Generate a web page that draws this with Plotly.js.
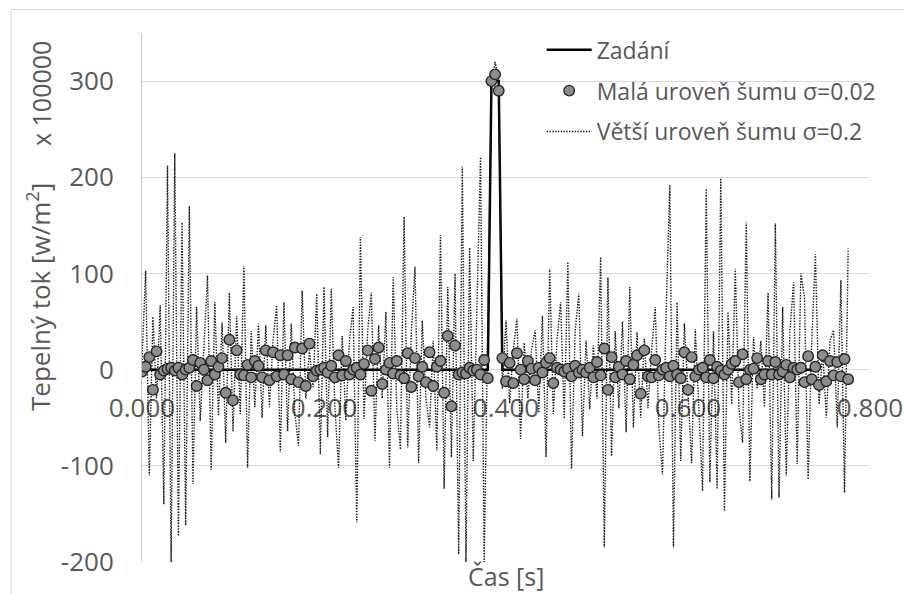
<!DOCTYPE html>
<html>
<head>
<meta charset="utf-8">
<script src="https://cdn.plot.ly/plotly-3.0.1.min.js"></script>
<style>html,body{margin:0;padding:0;background:#fff;}#chart{width:904px;height:594px;}</style>
</head>
<body>
<div id="chart"></div>
<script>
// ---- data ----
const timeS = [
0.000,0.004,0.008,0.012,0.016,0.020,0.024,0.028,0.032,0.036,
0.040,0.044,0.048,0.052,0.056,0.060,0.064,0.068,0.072,0.076,
0.080,0.084,0.088,0.092,0.096,0.100,0.104,0.108,0.112,0.116,
0.120,0.124,0.128,0.132,0.136,0.140,0.144,0.148,0.152,0.156,
0.160,0.164,0.168,0.172,0.176,0.180,0.184,0.188,0.192,0.196,
0.200,0.204,0.208,0.212,0.216,0.220,0.224,0.228,0.232,0.236,
0.240,0.244,0.248,0.252,0.256,0.260,0.264,0.268,0.272,0.276,
0.280,0.284,0.288,0.292,0.296,0.300,0.304,0.308,0.312,0.316,
0.320,0.324,0.328,0.332,0.336,0.340,0.344,0.348,0.352,0.356,
0.360,0.364,0.368,0.372,0.376,0.380,0.384,0.388,0.392,0.396,
0.400,0.404,0.408,0.412,0.416,0.420,0.424,0.428,0.432,0.436,
0.440,0.444,0.448,0.452,0.456,0.460,0.464,0.468,0.472,0.476,
0.480,0.484,0.488,0.492,0.496,0.500,0.504,0.508,0.512,0.516,
0.520,0.524,0.528,0.532,0.536,0.540,0.544,0.548,0.552,0.556,
0.560,0.564,0.568,0.572,0.576,0.580,0.584,0.588,0.592,0.596,
0.600,0.604,0.608,0.612,0.616,0.620,0.624,0.628,0.632,0.636,
0.640,0.644,0.648,0.652,0.656,0.660,0.664,0.668,0.672,0.676,
0.680,0.684,0.688,0.692,0.696,0.700,0.704,0.708,0.712,0.716,
0.720,0.724,0.728,0.732,0.736,0.740,0.744,0.748,0.752,0.756,
0.760,0.764,0.768,0.772,0.776
];

const zadani = [
0,0,0,0,0,0,0,0,0,0, 0,0,0,0,0,0,0,0,0,0,
0,0,0,0,0,0,0,0,0,0, 0,0,0,0,0,0,0,0,0,0,
0,0,0,0,0,0,0,0,0,0, 0,0,0,0,0,0,0,0,0,0,
0,0,0,0,0,0,0,0,0,0, 0,0,0,0,0,0,0,0,0,0,
0,0,0,0,0,0,0,0,0,0, 0,0,0,0,0,0,300,300,300,0,
0,0,0,0,0,0,0,0,0,0, 0,0,0,0,0,0,0,0,0,0,
0,0,0,0,0,0,0,0,0,0, 0,0,0,0,0,0,0,0,0,0,
0,0,0,0,0,0,0,0,0,0, 0,0,0,0,0,0,0,0,0,0,
0,0,0,0,0,0,0,0,0,0, 0,0,0,0,0,0,0,0,0,0,
0,0,0,0,0
];

const malaSum = [
-2,3,13,-21,19,-5,-1,1,2,-1,
2,-5,0,2,10,-17,7,0,-11,9,
-5,3,12,-24,31,-32,20,-5,-6,5,
-8,9,4,-8,20,-11,18,-7,15,-5,
15,-10,23,-13,22,-17,27,-7,-1,0,
2,-3,4,-8,15,-6,9,-5,0,2,
-5,6,20,-22,11,23,-15,0,7,-4,
9,-6,-9,17,-18,12,-7,3,-13,18,
-17,3,9,-24,35,-38,25,-5,-3,-4,
2,-1,0,-5,10,-9,300,307,290,12,
-12,7,-14,17,0,-10,9,1,-11,2,
-3,7,12,-14,2,0,-2,1,-7,4,
-3,0,-3,2,-8,8,-6,22,-21,13,
-8,3,-5,9,-10,5,15,-25,20,-7,
-8,10,-6,0,2,-7,4,-5,-9,18,
-21,13,-7,0,2,-8,10,-9,3,-1,
-5,0,6,9,-13,16,-10,0,1,12,
-10,-5,9,-5,8,-5,-2,5,-8,2,
0,2,-13,14,-10,3,-16,15,-12,9,
-6,8,-7,11,-10
];

const vetsiSum = [
10,103,-110,55,-30,67,-140,212,-200,225,
-173,153,-162,170,-119,65,-53,30,98,-104,
70,-48,49,-76,80,-64,56,-46,108,-102,
40,-39,48,-50,46,-39,30,67,-86,70,
-64,48,-46,-79,82,-30,20,-18,79,-88,
86,-70,84,-40,-102,35,-53,30,65,-159,
138,-51,40,80,-74,46,-30,60,-102,96,
-40,-83,159,-81,40,107,-97,51,-30,-60,
30,-84,140,-124,86,-91,100,-192,211,-200,
127,-95,72,221,-200,72,290,320,300,-20,
51,-35,20,53,-72,28,-30,20,41,-45,
56,-91,105,-46,30,70,-51,112,-103,40,
79,-69,30,-41,25,-30,117,-185,96,-90,
40,-40,50,-65,86,-60,39,-50,32,-40,
20,65,-60,-109,60,192,-185,70,-95,48,
-30,-97,42,-50,-126,188,-117,40,-124,199,
-147,60,-36,105,-40,-76,153,-116,34,-20,
30,-39,80,-135,152,-133,65,-110,40,91,
-98,100,75,-114,30,120,-36,20,-50,30,
41,-60,93,-128,126
];

const seriesNames = ["Zadání", "Malá uroveň šumu σ=0.02", "Větší uroveň šumu σ=0.2"];
const xTickVals = [0, 0.2, 0.4, 0.6, 0.8];
const xTickLabels = ["0.000", "0.200", "0.400", "0.600", "0.800"];
const yTickVals = [-200, -100, 0, 100, 200, 300];
const yTickLabels = ["-200", "-100", "0", "100", "200", "300"];
const xRange = [0, 0.8];
const yRange = [-200, 350];

// ---- chart ----
const FONT = "'Open Sans', 'Noto Sans', sans-serif";
const TXT = "#595959";

const traces = [
  {
    x: timeS, y: zadani, name: seriesNames[0], type: "scatter", mode: "lines",
    line: {color: "#000000", width: 2.5},
    legendgroup: "g1", legendrank: 1
  },
  {
    x: timeS, y: vetsiSum, name: seriesNames[2], type: "scatter", mode: "lines",
    line: {color: "#1a1a1a", width: 1.4, dash: "1.4px,1.4px"},
    legendgroup: "g3", legendrank: 3
  },
  {
    x: timeS, y: malaSum, name: seriesNames[1], type: "scatter", mode: "markers",
    marker: {symbol: "circle", size: 10.5, color: "#8c8c8c", line: {color: "#262626", width: 1.4}},
    legendgroup: "g2", legendrank: 2
  }
];

const layout = {
  width: 904, height: 594,
  margin: {l: 142, r: 34, t: 33, b: 32},
  paper_bgcolor: "#ffffff", plot_bgcolor: "#ffffff",
  font: {family: FONT, color: TXT, size: 25},
  showlegend: true,
  legend: {
    x: 0.549, y: 1.009, xanchor: "left", yanchor: "top",
    font: {family: FONT, size: 23, color: TXT},
    bgcolor: "rgba(0,0,0,0)", borderwidth: 0,
    traceorder: "grouped", tracegroupgap: 8, itemwidth: 45
  },
  xaxis: {
    range: xRange, tickmode: "array", tickvals: xTickVals, ticktext: xTickLabels,
    showgrid: false, zeroline: false, showline: false, ticks: "",
    anchor: "free", position: (0 - yRange[0]) / (yRange[1] - yRange[0]),
    tickfont: {family: FONT, size: 26, color: TXT},
    ticklabelstandoff: 20,
    layer: "below traces"
  },
  yaxis: {
    range: yRange, tickmode: "array", tickvals: yTickVals, ticktext: yTickLabels,
    showgrid: true, gridcolor: "#d9d9d9", gridwidth: 1,
    zeroline: false, showline: true, linecolor: "#c8c8c8", linewidth: 1, ticks: "",
    tickfont: {family: FONT, size: 26, color: TXT},
    ticklabelstandoff: 22,
    layer: "below traces"
  },
  annotations: [
    {text: "Tepelný tok [w/m<sup>2</sup>]", xref: "paper", yref: "paper",
     x: (39 - 142) / 728, y: (562 - 297) / 529, xanchor: "center", yanchor: "middle",
     textangle: -90, showarrow: false, font: {family: FONT, size: 26, color: TXT}},
    {text: "x 100000", xref: "paper", yref: "paper",
     x: (41 - 142) / 728, y: (562 - 94) / 529, xanchor: "center", yanchor: "middle",
     textangle: -90, showarrow: false, font: {family: FONT, size: 25, color: TXT}},
    {text: "Čas [s]", xref: "paper", yref: "paper",
     x: 0.5, y: (562 - 576) / 529, xanchor: "center", yanchor: "middle",
     showarrow: false, font: {family: FONT, size: 25, color: TXT}}
  ],
  shapes: [
    {type: "rect", xref: "paper", yref: "paper", layer: "below",
     x0: (11 - 142) / 728, x1: 1.2, y0: -0.2, y1: (562 - 9.5) / 529,
     line: {color: "#d9d9d9", width: 1}, fillcolor: "rgba(0,0,0,0)"}
  ]
};

Plotly.newPlot("chart", traces, layout, {displayModeBar: false, staticPlot: true});
</script>
</body>
</html>
